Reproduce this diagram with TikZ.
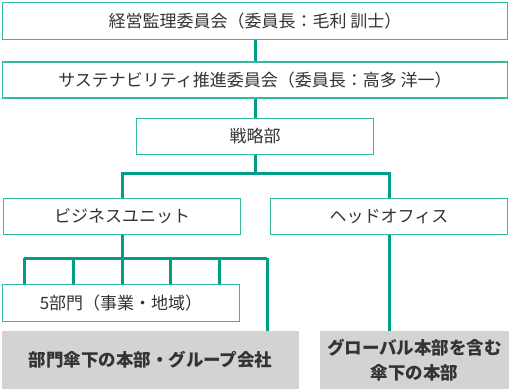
\documentclass[tikz,border=0pt]{standalone}
\usepackage{fontspec}
\setmainfont{Noto Sans CJK JP}
\definecolor{boxline}{HTML}{35B89E}
\definecolor{conn}{HTML}{00A088}
\definecolor{grayfill}{HTML}{D3D3D3}
\definecolor{txt}{HTML}{333333}
\begin{document}
\begin{tikzpicture}[x=1pt,y=-1pt,
  wbox/.style={draw=boxline,line width=1.3pt,fill=white,inner sep=0pt,
    text=txt,font=\fontsize{17}{20}\selectfont},
  gbox/.style={fill=grayfill,inner sep=0pt,text=txt,
    font=\bfseries\fontsize{17.5}{25}\selectfont,align=center},
  link/.style={draw=conn,line width=3pt}]
\useasboundingbox (0,0) rectangle (510,390);
\node[wbox,minimum width=505pt,minimum height=37pt] (gov) at (255,21) {経営監理委員会（委員長：毛利 訓士）};
\node[wbox,minimum width=505pt,minimum height=36pt] (sus) at (255,80) {サステナビリティ推進委員会（委員長：高多 洋一）};
\node[wbox,minimum width=237pt,minimum height=36pt] (str) at (255,136.5) {戦略部};
\node[wbox,minimum width=237pt,minimum height=36pt] (bu) at (122,216.5) {ビジネスユニット};
\node[wbox,minimum width=237pt,minimum height=36pt] (ho) at (389,216.5) {ヘッドオフィス};
\node[wbox,minimum width=237pt,minimum height=37pt] (five) at (121,303) {5部門（事業・地域）};
\node[gbox,minimum width=297pt,minimum height=58pt] (g1) at (150.5,360) {部門傘下の本部・グループ会社};
\node[gbox,minimum width=189pt,minimum height=58pt] (g2) at (414.5,360) {グローバル本部を含む\\傘下の本部};
% connectors
\draw[link] (gov.south) -- (sus.north);
\draw[link] (sus.south) -- (str.north);
\coordinate (busplit) at (255,173);
\draw[link] (str.south) -- (busplit);
\draw[link] (bu.north) |- (busplit) -| (ho.north);
\coordinate (fb) at (122,258);
\draw[link] (bu.south) -- (fb);
\coordinate (fl) at (24,258);
\coordinate (fr) at (267,258);
\draw[link] (fl) -- (fr);
\draw[link] (fl) -- (fl |- five.north);
\draw[link] (73,258) coordinate (f2) -- (f2 |- five.north);
\draw[link] (fb) -- (fb |- five.north);
\draw[link] (170,258) coordinate (f4) -- (f4 |- five.north);
\draw[link] (219,258) coordinate (f5) -- (f5 |- five.north);
\draw[link] (fr) -- (fr |- g1.north);
\draw[link] (ho.south) -- (ho.south |- g2.north);
\end{tikzpicture}
\end{document}
